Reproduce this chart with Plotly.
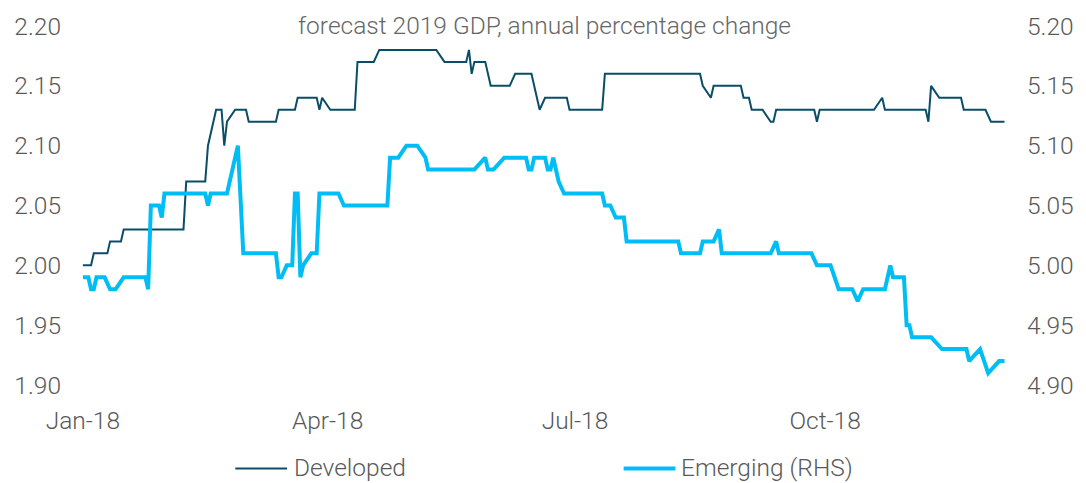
import pandas as pd
import plotly.graph_objects as go

# Day offsets from 1 Jan 2018 and forecast values
dev_days = [0, 3, 4, 9, 10, 14, 15, 37, 38, 45, 46, 49, 51, 52, 53, 56, 60, 61, 71, 72,
            78, 79, 86, 87, 88, 91, 100, 101, 107, 109, 130, 133, 141, 142, 143, 144, 148,
            150, 157, 159, 165, 168, 170, 178, 179, 191, 192, 227, 228, 231, 232, 242, 243,
            245, 246, 250, 253, 254, 255, 269, 270, 271, 291, 294, 295, 310, 311, 312, 315,
            323, 324, 332, 334, 339]
dev_vals = [2.00, 2.00, 2.01, 2.01, 2.02, 2.02, 2.03, 2.03, 2.07, 2.07, 2.10, 2.13, 2.13,
            2.10, 2.12, 2.13, 2.13, 2.12, 2.12, 2.13, 2.13, 2.14, 2.14, 2.13, 2.14, 2.13,
            2.13, 2.17, 2.17, 2.18, 2.18, 2.17, 2.17, 2.18, 2.16, 2.17, 2.17, 2.15, 2.15,
            2.16, 2.16, 2.13, 2.14, 2.14, 2.13, 2.13, 2.16, 2.16, 2.15, 2.14, 2.15, 2.15,
            2.14, 2.14, 2.13, 2.13, 2.12, 2.12, 2.13, 2.13, 2.12, 2.13, 2.13, 2.14, 2.13,
            2.13, 2.12, 2.15, 2.14, 2.14, 2.13, 2.13, 2.12, 2.12]

em_days = [0, 2, 3, 4, 5, 8, 10, 12, 15, 23, 24, 25, 28, 29, 30, 45, 46, 47, 53, 57, 59,
           71, 72, 73, 75, 77, 78, 79, 80, 81, 84, 86, 87, 94, 96, 112, 113, 116, 119, 123,
           126, 127, 144, 148, 149, 151, 155, 163, 164, 165, 166, 170, 171, 172, 173, 175,
           177, 191, 192, 194, 196, 199, 200, 219, 220, 227, 228, 232, 234, 235, 253, 255,
           256, 268, 270, 275, 278, 283, 285, 287, 295, 297, 298, 302, 303, 304, 305, 312,
           316, 325, 326, 330, 333, 337, 339]
em_vals = [4.99, 4.99, 4.98, 4.98, 4.99, 4.99, 4.98, 4.98, 4.99, 4.99, 4.98, 5.05, 5.05,
           5.04, 5.06, 5.06, 5.05, 5.06, 5.06, 5.10, 5.01, 5.01, 4.99, 4.99, 5.00, 5.00,
           5.06, 5.06, 4.99, 5.00, 5.01, 5.01, 5.06, 5.06, 5.05, 5.05, 5.09, 5.09, 5.10,
           5.10, 5.09, 5.08, 5.08, 5.09, 5.08, 5.08, 5.09, 5.09, 5.08, 5.08, 5.09, 5.09,
           5.08, 5.08, 5.09, 5.07, 5.06, 5.06, 5.05, 5.05, 5.04, 5.04, 5.02, 5.02, 5.01,
           5.01, 5.02, 5.02, 5.03, 5.01, 5.01, 5.02, 5.01, 5.01, 5.00, 5.00, 4.98, 4.98,
           4.97, 4.98, 4.98, 5.00, 4.99, 4.99, 4.95, 4.95, 4.94, 4.94, 4.93, 4.93, 4.92,
           4.93, 4.91, 4.92, 4.92]

x_tick_dates = ["2018-01-01", "2018-04-01", "2018-07-01", "2018-10-01"]
x_tick_labels = ["Jan-18", "Apr-18", "Jul-18", "Oct-18"]

start = pd.Timestamp("2018-01-01")
dev_dates = start + pd.to_timedelta(dev_days, unit="D")
em_dates = start + pd.to_timedelta(em_days, unit="D")

DEV_COLOR = "#0b4d66"
EM_COLOR = "#00bdf5"
FONT = "Roboto"
FS = 24.5
TXT = "#595959"

fig = go.Figure()
fig.add_trace(go.Scatter(x=dev_dates, y=dev_vals, mode="lines", name="Developed",
                         line=dict(color=DEV_COLOR, width=2), yaxis="y"))
fig.add_trace(go.Scatter(x=em_dates, y=em_vals, mode="lines", name="Emerging (RHS)",
                         line=dict(color=EM_COLOR, width=4), yaxis="y2"))

L, R, T, B = 62, 56, 20, 98
W, H = 1086, 483
pw = W - L - R
ph = H - T - B

def px(xp):
    return (xp - L) / pw

def py(yp):
    return (H - B - yp) / ph

fig.update_layout(
    width=W, height=H,
    margin=dict(l=L, r=R, t=T, b=B),
    paper_bgcolor="white", plot_bgcolor="white",
    showlegend=False,
    font=dict(family=FONT, size=FS, color=TXT, weight=300),
    xaxis=dict(type="date", range=["2017-12-24 07:30", "2018-12-13 21:40"],
               tickvals=x_tick_dates, ticktext=x_tick_labels,
               showgrid=False, zeroline=False, showline=False, ticks="",
               ticklabelstandoff=18, tickfont=dict(size=FS, color=TXT)),
    yaxis=dict(range=[1.90, 2.20], dtick=0.05, tickformat=".2f", showgrid=False,
               zeroline=False, showline=False, ticks="", tickfont=dict(size=FS, color=TXT)),
    yaxis2=dict(range=[4.90, 5.20], dtick=0.05, tickformat=".2f", overlaying="y",
                side="right", showgrid=False, zeroline=False, showline=False, ticks="",
                tickfont=dict(size=FS, color=TXT)),
)

fig.add_annotation(text="forecast 2019 GDP, annual percentage change", xref="paper",
                   yref="paper", x=px(546), y=py(19), xanchor="center", yanchor="middle",
                   showarrow=False, font=dict(size=FS, color="#666666", family=FONT, weight=300))

# manual legend
fig.add_shape(type="line", xref="paper", yref="paper", x0=px(236), x1=px(288),
              y0=py(470), y1=py(470), line=dict(color=DEV_COLOR, width=2))
fig.add_annotation(text="Developed", xref="paper", yref="paper", x=px(293), y=py(469),
                   xanchor="left", yanchor="middle", showarrow=False,
                   font=dict(size=FS, color=TXT, family=FONT, weight=300))
fig.add_shape(type="line", xref="paper", yref="paper", x0=px(626), x1=px(678),
              y0=py(470), y1=py(470), line=dict(color=EM_COLOR, width=4))
fig.add_annotation(text="Emerging (RHS)", xref="paper", yref="paper", x=px(682), y=py(469),
                   xanchor="left", yanchor="middle", showarrow=False,
                   font=dict(size=FS, color=TXT, family=FONT, weight=300))

fig.write_html("out.html")
